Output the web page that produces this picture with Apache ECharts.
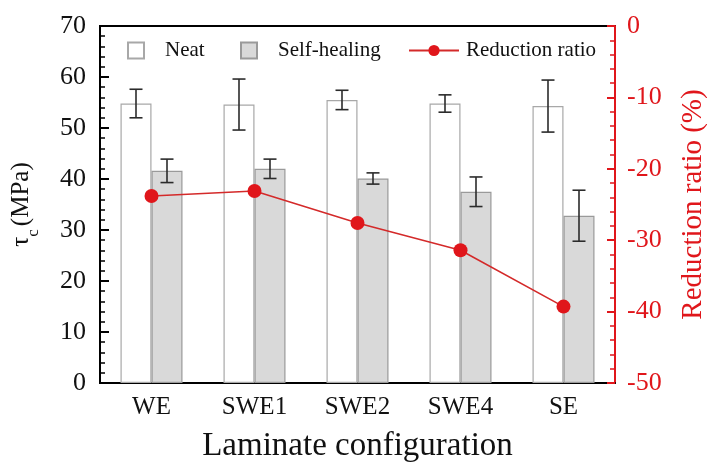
<!DOCTYPE html>
<html>
<head>
<meta charset="utf-8">
<script src="https://cdn.jsdelivr.net/npm/echarts@6/dist/echarts.min.js"></script>
<style>
  html, body { margin: 0; padding: 0; background: #fff; overflow: hidden; }
  #chart { width: 707px; height: 469px; }
</style>
</head>
<body>
<div id="chart"></div>
<script>
// Interlaminar shear strength of the laminate configurations
const categories = ['WE', 'SWE1', 'SWE2', 'SWE4', 'SE'];
const neat = [54.8, 54.6, 55.5, 54.8, 54.3];
const neatErr = [2.8, 5.0, 1.9, 1.7, 5.1];
const healing = [41.6, 42.0, 40.1, 37.5, 32.8];
const healingErr = [2.3, 1.9, 1.1, 2.9, 5.0];
const reduction = [-23.8, -23.1, -27.6, -31.4, -39.3];
const leftTicks = [0, 70, 10];
const rightTicks = [-50, 0, 10];

const FONT = '"Liberation Serif", "Times New Roman", serif';
const RED = '#e0161b';
const BAR_W = 31;

const chart = echarts.init(document.getElementById('chart'), null, { renderer: 'canvas', width: 707, height: 469 });

// error bars drawn on top of a bar at a fixed horizontal offset
function errorSeries(name, values, errs, offset) {
  return {
    type: 'custom',
    name: name,
    yAxisIndex: 0,
    z: 5,
    silent: true,
    data: values.map((v, i) => [i, v - errs[i], v + errs[i]]),
    renderItem: function (params, api) {
      const lo = api.coord([api.value(0), api.value(1)]);
      const hi = api.coord([api.value(0), api.value(2)]);
      const x = lo[0] + offset;
      const cap = 6.5;
      const style = { stroke: '#2b2b2b', lineWidth: 1.6 };
      return {
        type: 'group',
        children: [
          { type: 'line', shape: { x1: x, y1: lo[1], x2: x, y2: hi[1] }, style: style },
          { type: 'line', shape: { x1: x - cap, y1: lo[1], x2: x + cap, y2: lo[1] }, style: style },
          { type: 'line', shape: { x1: x - cap, y1: hi[1], x2: x + cap, y2: hi[1] }, style: style }
        ]
      };
    }
  };
}

const legendText = { fontFamily: FONT, fontSize: 21, color: '#111', padding: [0, 0, 0, 16] };

const option = {
  backgroundColor: '#fff',
  animation: false,
  textStyle: { fontFamily: FONT },
  grid: {
    left: 100, right: 92, top: 26, bottom: 86,
    outerBoundsMode: 'none',
    containLabel: false,
    show: true, borderColor: '#000', borderWidth: 2, backgroundColor: 'transparent'
  },
  legend: [
    {
      data: [{ name: 'Neat', icon: 'rect' }], left: 127, top: 40, padding: 0,
      itemWidth: 16, itemHeight: 16, textStyle: legendText
    },
    {
      data: [{ name: 'Self-healing', icon: 'rect' }], left: 240, top: 40, padding: 0,
      itemWidth: 16, itemHeight: 16, textStyle: legendText
    },
    {
      data: ['Reduction ratio'], left: 408, top: 40, padding: 0,
      itemWidth: 50, itemHeight: 14,
      textStyle: { fontFamily: FONT, fontSize: 21, color: '#111', padding: [0, 0, 0, 2] }
    }
  ],
  xAxis: {
    type: 'category',
    data: categories,
    axisLine: { lineStyle: { color: '#000', width: 2 } },
    axisTick: { show: false },
    axisLabel: { fontFamily: FONT, fontSize: 25, color: '#111', margin: 12 },
    name: 'Laminate configuration',
    nameLocation: 'middle',
    nameGap: 47,
    nameTextStyle: { fontFamily: FONT, fontSize: 33, color: '#111' }
  },
  yAxis: [
    {
      type: 'value',
      min: leftTicks[0], max: leftTicks[1], interval: leftTicks[2],
      position: 'left',
      axisLine: { show: true, lineStyle: { color: '#000', width: 2 } },
      axisTick: { show: true, inside: true, length: 9, lineStyle: { color: '#000', width: 2 } },
      minorTick: { show: true, splitNumber: 5, length: 5, lineStyle: { color: '#000', width: 1.5 } },
      splitLine: { show: false },
      axisLabel: { fontFamily: FONT, fontSize: 26, color: '#111', margin: 14 },
      name: '{t|τ}{s|c} {t|(MPa)}',
      nameLocation: 'middle',
      nameGap: 58,
      nameRotate: 90,
      nameTextStyle: {
        fontFamily: FONT, color: '#111',
        rich: {
          t: { fontFamily: FONT, fontSize: 25, color: '#111', verticalAlign: 'bottom', padding: [0, 0, 8, 0] },
          s: { fontFamily: FONT, fontSize: 17, color: '#111', verticalAlign: 'bottom' }
        }
      }
    },
    {
      type: 'value',
      min: rightTicks[0], max: rightTicks[1], interval: rightTicks[2],
      position: 'right',
      axisLine: { show: true, lineStyle: { color: RED, width: 2 } },
      axisTick: { show: true, inside: true, length: 8, lineStyle: { color: RED, width: 2 } },
      minorTick: { show: true, splitNumber: 5, length: 5, lineStyle: { color: RED, width: 1.5 } },
      splitLine: { show: false },
      axisLabel: { fontFamily: FONT, fontSize: 26, color: RED, margin: 12 },
      name: 'Reduction ratio (%)',
      nameLocation: 'middle',
      nameGap: 64,
      nameRotate: 90,
      nameTextStyle: { fontFamily: FONT, fontSize: 29, color: RED }
    }
  ],
  series: [
    {
      name: 'Neat',
      type: 'bar',
      yAxisIndex: 0,
      barWidth: BAR_W,
      barGap: '0%',
      data: neat,
      itemStyle: { color: '#ffffff', borderColor: '#a8a8a8', borderWidth: 1.2 }
    },
    {
      name: 'Self-healing',
      type: 'bar',
      yAxisIndex: 0,
      barWidth: BAR_W,
      barGap: '0%',
      data: healing,
      itemStyle: { color: '#d9d9d9', borderColor: '#9a9a9a', borderWidth: 1.2 }
    },
    errorSeries('NeatErr', neat, neatErr, -BAR_W / 2),
    errorSeries('HealingErr', healing, healingErr, BAR_W / 2),
    {
      name: 'Reduction ratio',
      type: 'line',
      yAxisIndex: 1,
      z: 6,
      data: reduction,
      symbol: 'circle',
      symbolSize: 14,
      lineStyle: { color: '#d42a2a', width: 1.6 },
      itemStyle: { color: RED }
    }
  ]
};

chart.setOption(option);
</script>
</body>
</html>
